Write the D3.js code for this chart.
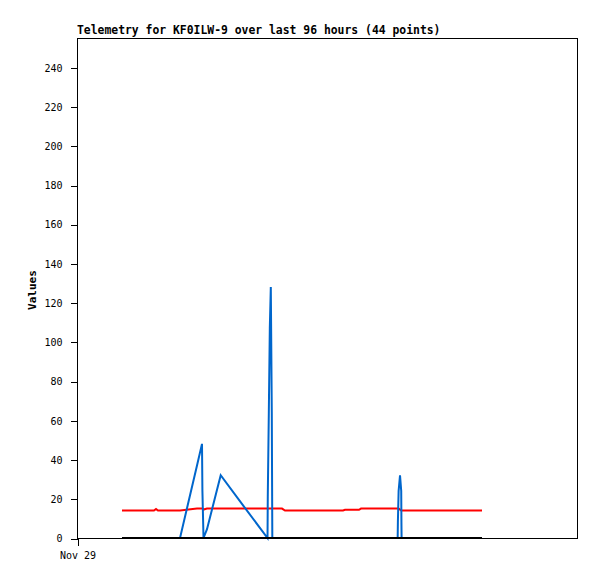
<!DOCTYPE html> <meta charset="utf-8" />
<style>
  body { margin: 0; background: white; overflow: hidden; }
  svg { font-family: "DejaVu Sans Mono", monospace; }
</style>
<body>
<svg id="chart"></svg>
<script src="https://d3js.org/d3.v7.min.js"></script>
<script>
  // hours after Nov 29 00:00 for each of the 44 packets
  var hours = [8.64, 10.18, 11.71, 13.25, 14.78, 15.17, 15.55, 17.47, 19.78, 23.04,
    24.00, 24.08, 24.29, 24.96, 27.59, 32.06, 36.58, 36.63, 36.83, 37.02,
    37.21, 37.40, 37.50, 39.36, 39.94, 42.82, 45.70, 48.58, 51.07, 51.46,
    54.14, 54.53, 57.22, 60.10, 61.57, 61.61, 61.75, 62.02, 62.25, 62.29,
    62.32, 67.78, 72.77, 77.76];
  var blueVals = [0, 0, 0, 0, 0, 0, 0, 0, 0, 37,
    48, 24, 0, 4.5, 32, 16, 0, 21, 64, 107,
    128, 64, 0, 0, 0, 0, 0, 0, 0, 0,
    0, 0, 0, 0, 0, 8, 24, 32, 24, 8,
    0, 0, 0, 0];
  var redVals = [14, 14, 14, 14, 14, 14.8, 14, 14, 14, 15,
    15, 15, 14.5, 15, 15, 15, 15, 15, 15, 15,
    15, 15, 15, 15, 14, 14, 14, 14, 14, 14.4,
    14.4, 15, 15, 15, 15, 15, 15, 14.5, 14, 14,
    14, 14, 14, 14];
  var blackVals = hours.map(function(){ return 0; });
  var yTicks = [0, 20, 40, 60, 80, 100, 120, 140, 160, 180, 200, 220, 240];
  var titleText = "Telemetry for KF0ILW-9 over last 96 hours (44 points)";

  var W = 597, H = 579;
  var pL = 77, pT = 38, pR = 577, pB = 538;
  var start = new Date(2023, 10, 29, 0, 0);

  var svg = d3.select("#chart").attr("width", W).attr("height", H);

  var x = d3.scaleTime()
    .domain([start, d3.timeHour.offset(start, 96)])
    .range([pL, pR]);
  var y = d3.scaleLinear().domain([0, 255]).range([pB, pT]);

  var times = hours.map(function(h){ return new Date(start.getTime() + h * 3600e3); });

  // frame
  svg.append("rect")
    .attr("x", pL + 0.5).attr("y", pT + 0.5)
    .attr("width", pR - pL).attr("height", pB - pT)
    .attr("fill", "none").attr("stroke", "black").attr("shape-rendering", "crispEdges");

  var yAxis = svg.append("g")
    .attr("transform", "translate(" + (pL + 0.5) + ",0.5)")
    .call(d3.axisLeft(y).tickValues(yTicks).tickSize(7).tickPadding(8));
  yAxis.select(".domain").remove();
  yAxis.selectAll("text").attr("font-size", 10).attr("font-family", "DejaVu Sans Mono");
  yAxis.selectAll("line").attr("shape-rendering", "crispEdges");

  var xAxis = svg.append("g")
    .attr("transform", "translate(0.5," + (pB + 0.5) + ")")
    .call(d3.axisBottom(x).tickValues([start]).tickSize(7).tickPadding(6)
      .tickFormat(d3.timeFormat("%b %d")));
  xAxis.select(".domain").remove();
  xAxis.selectAll("text").attr("font-size", 10).attr("font-family", "DejaVu Sans Mono");
  xAxis.selectAll("line").attr("shape-rendering", "crispEdges");

  svg.append("text")
    .attr("x", pL).attr("y", 34)
    .attr("font-size", 11.4).attr("font-weight", "bold")
    .text(titleText);

  svg.append("text")
    .attr("transform", "translate(36," + ((pT + pB) / 2 + 2) + ") rotate(-90)")
    .attr("text-anchor", "middle")
    .attr("font-size", 11).attr("font-weight", "bold")
    .text("Values");

  var series = [
    { vals: redVals, color: "#ff0000" },
    { vals: blueVals, color: "#0066cc" },
    { vals: blackVals, color: "#000000" }
  ];

  series.forEach(function(s) {
    var line = d3.line()
      .x(function(d, i){ return x(times[i]); })
      .y(function(d){ return y(d); });
    svg.append("path")
      .datum(s.vals)
      .attr("d", line)
      .attr("fill", "none")
      .attr("stroke", s.color)
      .attr("stroke-width", 2);
  });
</script>
</body>
